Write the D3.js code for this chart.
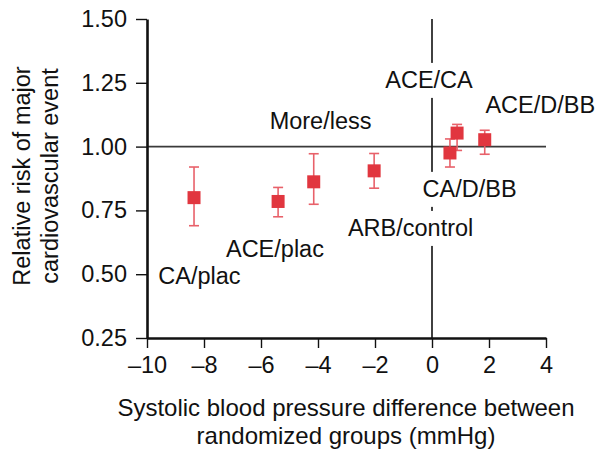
<!DOCTYPE html>
<html><head><meta charset="utf-8">
<script src="https://cdn.jsdelivr.net/npm/d3@7/dist/d3.min.js"></script>
<style>
html,body{margin:0;padding:0;background:#fff;}
text{font-family:"Liberation Sans",Arial,Helvetica,sans-serif;fill:#111;}
</style></head>
<body>
<svg id="chart" width="603" height="453"></svg>
<script>
// Data
const groups   = ["CA/plac","ACE/plac","More/less","ARB/control","ACE/CA","CA/D/BB","ACE/D/BB"];
const sbpDiff  = [-8.35, -5.40, -4.15, -2.03, 0.63, 0.88, 1.85];
const relRisk  = [0.800, 0.785, 0.862, 0.905, 0.975, 1.053, 1.027];
const ciLow    = [0.690, 0.725, 0.774, 0.837, 0.920, 0.985, 0.970];
const ciHigh   = [0.920, 0.840, 0.972, 0.973, 1.030, 1.087, 1.064];

const xTicks = [-10,-8,-6,-4,-2,0,2,4];
const yTicks = [0.25,0.50,0.75,1.00,1.25,1.50];

// annotation labels (anchor in data units)
const annText = ["More/less","ACE/CA","ACE/D/BB","CA/D/BB","ARB/control","ACE/plac","CA/plac"];
const annX    = [-3.91, -0.105, 3.80, 1.32, -0.75, -5.51, -8.16];
const annY    = [1.069, 1.230, 1.132, 0.803, 0.650, 0.567, 0.462];
const annMask = [false, true, false, true, true, false, false];

const svg = d3.select("#chart");
const x = d3.scaleLinear().domain([-10,4]).range([147,546]);
const y = d3.scaleLinear().domain([0.25,1.5]).range([338,19]);
const FS = 23.5;

// reference lines
svg.append("line").attr("x1",x(-10)).attr("x2",x(4)).attr("y1",y(1)).attr("y2",y(1))
  .attr("stroke","#3a3a3a").attr("stroke-width",1.6);
svg.append("line").attr("x1",x(0)).attr("x2",x(0)).attr("y1",y(1.5)).attr("y2",y(0.25))
  .attr("stroke","#111").attr("stroke-width",1.6);

// axes
const yAxis = svg.append("g").attr("transform",`translate(${x(-10)},0)`)
  .call(d3.axisLeft(y).tickValues(yTicks).tickFormat(d3.format(".2f")).tickSizeInner(11).tickSizeOuter(0).tickPadding(9));
const xAxis = svg.append("g").attr("transform",`translate(0,${y(0.25)})`)
  .call(d3.axisBottom(x).tickValues(xTicks).tickFormat(d=> d<0 ? "\u2013"+Math.abs(d) : String(d)).tickSizeInner(10).tickSizeOuter(0).tickPadding(9));
[yAxis,xAxis].forEach(g=>{
  g.select(".domain").attr("stroke","#111").attr("stroke-width",2.6);
  g.selectAll(".tick line").attr("stroke","#111").attr("stroke-width",1.4);
  g.selectAll(".tick text").attr("font-size",FS).attr("font-family","Liberation Sans, Arial, sans-serif").attr("fill","#111");
});
xAxis.selectAll(".tick text").attr("dy","0.71em").attr("y",18);

// annotations with masks
annText.forEach((t,i)=>{
  const tx = svg.append("text").attr("x",x(annX[i])).attr("y",y(annY[i]))
    .attr("text-anchor","middle").attr("font-size",FS).text(t);
  if(annMask[i]){
    const b = tx.node().getBBox();
    svg.insert("rect", function(){return tx.node();})
      .attr("x",b.x-2).attr("y",b.y-4).attr("width",b.width+4).attr("height",b.height+9).attr("fill","#fff");
  }
});

// error bars and markers
const cap = 5, sq = 13;
const pts = sbpDiff.map((d,i)=>({x:d,y:relRisk[i],lo:ciLow[i],hi:ciHigh[i]}));
const eb = svg.append("g").attr("stroke","#e8616a").attr("stroke-width",1.6);
pts.forEach(p=>{
  eb.append("line").attr("x1",x(p.x)).attr("x2",x(p.x)).attr("y1",y(p.lo)).attr("y2",y(p.hi));
  eb.append("line").attr("x1",x(p.x)-cap).attr("x2",x(p.x)+cap).attr("y1",y(p.lo)).attr("y2",y(p.lo));
  eb.append("line").attr("x1",x(p.x)-cap).attr("x2",x(p.x)+cap).attr("y1",y(p.hi)).attr("y2",y(p.hi));
});
svg.append("g").selectAll("rect").data(pts).join("rect")
  .attr("x",p=>x(p.x)-sq/2).attr("y",p=>y(p.y)-sq/2).attr("width",sq).attr("height",sq)
  .attr("fill","#e1363f");

// axis titles
svg.append("text").attr("x",346).attr("y",416).attr("text-anchor","middle").attr("font-size",24)
  .text("Systolic blood pressure difference between");
svg.append("text").attr("x",346).attr("y",444).attr("text-anchor","middle").attr("font-size",24)
  .text("randomized groups (mmHg)");
svg.append("text").attr("transform","translate(30,176) rotate(-90)").attr("text-anchor","middle").attr("font-size",FS)
  .text("Relative risk of major");
svg.append("text").attr("transform","translate(58,176) rotate(-90)").attr("text-anchor","middle").attr("font-size",FS)
  .text("cardiovascular event");
</script>
</body></html>
